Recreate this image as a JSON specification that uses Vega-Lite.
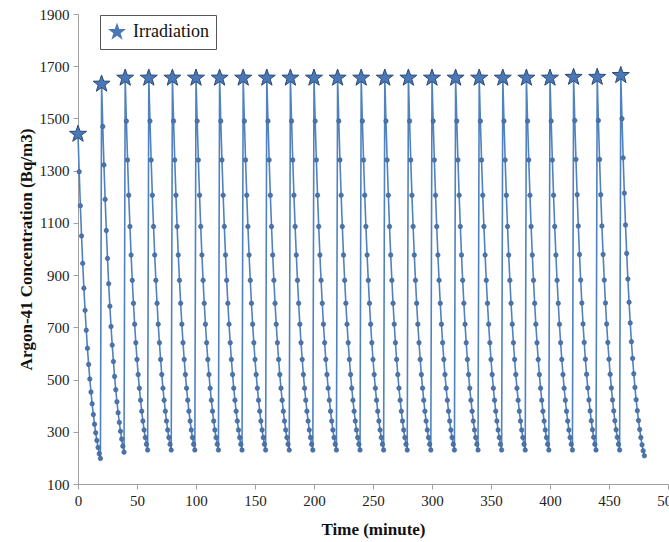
{
  "$schema": "https://vega.github.io/schema/vega-lite/v6.json",
  "width": 590,
  "height": 470,
  "autosize": {"type": "none"},
  "padding": {"left": 78, "top": 14, "right": 1, "bottom": 58},
  "background": "white",
  "config": {
    "view": {"stroke": null},
    "axis": {
      "grid": false,
      "domainColor": "#a0a0a0",
      "tickColor": "#a0a0a0",
      "tickSize": 5,
      "labelFont": "Liberation Serif",
      "labelFontSize": 15,
      "labelColor": "#222222",
      "titleFont": "Liberation Serif",
      "titleFontSize": 17,
      "titleFontWeight": "bold",
      "titleColor": "#111111"
    }
  },
  "data": {"values": [
    {"t":0,"v":1440,"k":"Irradiation"},{"t":1,"v":1296},{"t":2,"v":1166},{"t":3,"v":1050},{"t":4,"v":945},{"t":5,"v":850},{"t":6,"v":765},{"t":7,"v":689},{"t":8,"v":620},{"t":9,"v":558},{"t":10,"v":502},{"t":11,"v":452},{"t":12,"v":407},{"t":13,"v":366},{"t":14,"v":329},{"t":15,"v":296},{"t":16,"v":267},{"t":17,"v":240},{"t":18,"v":216},{"t":19,"v":198},
    {"t":20,"v":1632,"k":"Irradiation"},{"t":21,"v":1469},{"t":22,"v":1322},{"t":23,"v":1190},{"t":24,"v":1071},{"t":25,"v":964},{"t":26,"v":867},{"t":27,"v":781},{"t":28,"v":703},{"t":29,"v":632},{"t":30,"v":569},{"t":31,"v":512},{"t":32,"v":461},{"t":33,"v":415},{"t":34,"v":373},{"t":35,"v":336},{"t":36,"v":302},{"t":37,"v":272},{"t":38,"v":245},{"t":39,"v":222},
    {"t":40,"v":1655,"k":"Irradiation"},{"t":41,"v":1490},{"t":42,"v":1341},{"t":43,"v":1206},{"t":44,"v":1086},{"t":45,"v":977},{"t":46,"v":880},{"t":47,"v":792},{"t":48,"v":712},{"t":49,"v":641},{"t":50,"v":577},{"t":51,"v":519},{"t":52,"v":467},{"t":53,"v":421},{"t":54,"v":379},{"t":55,"v":341},{"t":56,"v":307},{"t":57,"v":278},{"t":58,"v":252},{"t":59,"v":230},
    {"t":60,"v":1655,"k":"Irradiation"},{"t":61,"v":1490},{"t":62,"v":1341},{"t":63,"v":1206},{"t":64,"v":1086},{"t":65,"v":977},{"t":66,"v":880},{"t":67,"v":792},{"t":68,"v":712},{"t":69,"v":641},{"t":70,"v":577},{"t":71,"v":519},{"t":72,"v":467},{"t":73,"v":421},{"t":74,"v":379},{"t":75,"v":341},{"t":76,"v":307},{"t":77,"v":278},{"t":78,"v":252},{"t":79,"v":230},
    {"t":80,"v":1655,"k":"Irradiation"},{"t":81,"v":1490},{"t":82,"v":1341},{"t":83,"v":1206},{"t":84,"v":1086},{"t":85,"v":977},{"t":86,"v":880},{"t":87,"v":792},{"t":88,"v":712},{"t":89,"v":641},{"t":90,"v":577},{"t":91,"v":519},{"t":92,"v":467},{"t":93,"v":421},{"t":94,"v":379},{"t":95,"v":341},{"t":96,"v":307},{"t":97,"v":278},{"t":98,"v":252},{"t":99,"v":230},
    {"t":100,"v":1655,"k":"Irradiation"},{"t":101,"v":1490},{"t":102,"v":1341},{"t":103,"v":1206},{"t":104,"v":1086},{"t":105,"v":977},{"t":106,"v":880},{"t":107,"v":792},{"t":108,"v":712},{"t":109,"v":641},{"t":110,"v":577},{"t":111,"v":519},{"t":112,"v":467},{"t":113,"v":421},{"t":114,"v":379},{"t":115,"v":341},{"t":116,"v":307},{"t":117,"v":278},{"t":118,"v":252},{"t":119,"v":230},
    {"t":120,"v":1655,"k":"Irradiation"},{"t":121,"v":1490},{"t":122,"v":1341},{"t":123,"v":1206},{"t":124,"v":1086},{"t":125,"v":977},{"t":126,"v":880},{"t":127,"v":792},{"t":128,"v":712},{"t":129,"v":641},{"t":130,"v":577},{"t":131,"v":519},{"t":132,"v":467},{"t":133,"v":421},{"t":134,"v":379},{"t":135,"v":341},{"t":136,"v":307},{"t":137,"v":278},{"t":138,"v":252},{"t":139,"v":230},
    {"t":140,"v":1655,"k":"Irradiation"},{"t":141,"v":1490},{"t":142,"v":1341},{"t":143,"v":1206},{"t":144,"v":1086},{"t":145,"v":977},{"t":146,"v":880},{"t":147,"v":792},{"t":148,"v":712},{"t":149,"v":641},{"t":150,"v":577},{"t":151,"v":519},{"t":152,"v":467},{"t":153,"v":421},{"t":154,"v":379},{"t":155,"v":341},{"t":156,"v":307},{"t":157,"v":278},{"t":158,"v":252},{"t":159,"v":230},
    {"t":160,"v":1655,"k":"Irradiation"},{"t":161,"v":1490},{"t":162,"v":1341},{"t":163,"v":1206},{"t":164,"v":1086},{"t":165,"v":977},{"t":166,"v":880},{"t":167,"v":792},{"t":168,"v":712},{"t":169,"v":641},{"t":170,"v":577},{"t":171,"v":519},{"t":172,"v":467},{"t":173,"v":421},{"t":174,"v":379},{"t":175,"v":341},{"t":176,"v":307},{"t":177,"v":278},{"t":178,"v":252},{"t":179,"v":230},
    {"t":180,"v":1655,"k":"Irradiation"},{"t":181,"v":1490},{"t":182,"v":1341},{"t":183,"v":1206},{"t":184,"v":1086},{"t":185,"v":977},{"t":186,"v":880},{"t":187,"v":792},{"t":188,"v":712},{"t":189,"v":641},{"t":190,"v":577},{"t":191,"v":519},{"t":192,"v":467},{"t":193,"v":421},{"t":194,"v":379},{"t":195,"v":341},{"t":196,"v":307},{"t":197,"v":278},{"t":198,"v":252},{"t":199,"v":230},
    {"t":200,"v":1655,"k":"Irradiation"},{"t":201,"v":1490},{"t":202,"v":1341},{"t":203,"v":1206},{"t":204,"v":1086},{"t":205,"v":977},{"t":206,"v":880},{"t":207,"v":792},{"t":208,"v":712},{"t":209,"v":641},{"t":210,"v":577},{"t":211,"v":519},{"t":212,"v":467},{"t":213,"v":421},{"t":214,"v":379},{"t":215,"v":341},{"t":216,"v":307},{"t":217,"v":278},{"t":218,"v":252},{"t":219,"v":230},
    {"t":220,"v":1655,"k":"Irradiation"},{"t":221,"v":1490},{"t":222,"v":1341},{"t":223,"v":1206},{"t":224,"v":1086},{"t":225,"v":977},{"t":226,"v":880},{"t":227,"v":792},{"t":228,"v":712},{"t":229,"v":641},{"t":230,"v":577},{"t":231,"v":519},{"t":232,"v":467},{"t":233,"v":421},{"t":234,"v":379},{"t":235,"v":341},{"t":236,"v":307},{"t":237,"v":278},{"t":238,"v":252},{"t":239,"v":230},
    {"t":240,"v":1655,"k":"Irradiation"},{"t":241,"v":1490},{"t":242,"v":1341},{"t":243,"v":1206},{"t":244,"v":1086},{"t":245,"v":977},{"t":246,"v":880},{"t":247,"v":792},{"t":248,"v":712},{"t":249,"v":641},{"t":250,"v":577},{"t":251,"v":519},{"t":252,"v":467},{"t":253,"v":421},{"t":254,"v":379},{"t":255,"v":341},{"t":256,"v":307},{"t":257,"v":278},{"t":258,"v":252},{"t":259,"v":230},
    {"t":260,"v":1655,"k":"Irradiation"},{"t":261,"v":1490},{"t":262,"v":1341},{"t":263,"v":1206},{"t":264,"v":1086},{"t":265,"v":977},{"t":266,"v":880},{"t":267,"v":792},{"t":268,"v":712},{"t":269,"v":641},{"t":270,"v":577},{"t":271,"v":519},{"t":272,"v":467},{"t":273,"v":421},{"t":274,"v":379},{"t":275,"v":341},{"t":276,"v":307},{"t":277,"v":278},{"t":278,"v":252},{"t":279,"v":230},
    {"t":280,"v":1655,"k":"Irradiation"},{"t":281,"v":1490},{"t":282,"v":1341},{"t":283,"v":1206},{"t":284,"v":1086},{"t":285,"v":977},{"t":286,"v":880},{"t":287,"v":792},{"t":288,"v":712},{"t":289,"v":641},{"t":290,"v":577},{"t":291,"v":519},{"t":292,"v":467},{"t":293,"v":421},{"t":294,"v":379},{"t":295,"v":341},{"t":296,"v":307},{"t":297,"v":278},{"t":298,"v":252},{"t":299,"v":230},
    {"t":300,"v":1655,"k":"Irradiation"},{"t":301,"v":1490},{"t":302,"v":1341},{"t":303,"v":1206},{"t":304,"v":1086},{"t":305,"v":977},{"t":306,"v":880},{"t":307,"v":792},{"t":308,"v":712},{"t":309,"v":641},{"t":310,"v":577},{"t":311,"v":519},{"t":312,"v":467},{"t":313,"v":421},{"t":314,"v":379},{"t":315,"v":341},{"t":316,"v":307},{"t":317,"v":278},{"t":318,"v":252},{"t":319,"v":230},
    {"t":320,"v":1655,"k":"Irradiation"},{"t":321,"v":1490},{"t":322,"v":1341},{"t":323,"v":1206},{"t":324,"v":1086},{"t":325,"v":977},{"t":326,"v":880},{"t":327,"v":792},{"t":328,"v":712},{"t":329,"v":641},{"t":330,"v":577},{"t":331,"v":519},{"t":332,"v":467},{"t":333,"v":421},{"t":334,"v":379},{"t":335,"v":341},{"t":336,"v":307},{"t":337,"v":278},{"t":338,"v":252},{"t":339,"v":230},
    {"t":340,"v":1655,"k":"Irradiation"},{"t":341,"v":1490},{"t":342,"v":1341},{"t":343,"v":1206},{"t":344,"v":1086},{"t":345,"v":977},{"t":346,"v":880},{"t":347,"v":792},{"t":348,"v":712},{"t":349,"v":641},{"t":350,"v":577},{"t":351,"v":519},{"t":352,"v":467},{"t":353,"v":421},{"t":354,"v":379},{"t":355,"v":341},{"t":356,"v":307},{"t":357,"v":278},{"t":358,"v":252},{"t":359,"v":230},
    {"t":360,"v":1655,"k":"Irradiation"},{"t":361,"v":1490},{"t":362,"v":1341},{"t":363,"v":1206},{"t":364,"v":1086},{"t":365,"v":977},{"t":366,"v":880},{"t":367,"v":792},{"t":368,"v":712},{"t":369,"v":641},{"t":370,"v":577},{"t":371,"v":519},{"t":372,"v":467},{"t":373,"v":421},{"t":374,"v":379},{"t":375,"v":341},{"t":376,"v":307},{"t":377,"v":278},{"t":378,"v":252},{"t":379,"v":230},
    {"t":380,"v":1655,"k":"Irradiation"},{"t":381,"v":1490},{"t":382,"v":1341},{"t":383,"v":1206},{"t":384,"v":1086},{"t":385,"v":977},{"t":386,"v":880},{"t":387,"v":792},{"t":388,"v":712},{"t":389,"v":641},{"t":390,"v":577},{"t":391,"v":519},{"t":392,"v":467},{"t":393,"v":421},{"t":394,"v":379},{"t":395,"v":341},{"t":396,"v":307},{"t":397,"v":278},{"t":398,"v":252},{"t":399,"v":230},
    {"t":400,"v":1655,"k":"Irradiation"},{"t":401,"v":1490},{"t":402,"v":1341},{"t":403,"v":1206},{"t":404,"v":1086},{"t":405,"v":977},{"t":406,"v":880},{"t":407,"v":792},{"t":408,"v":712},{"t":409,"v":641},{"t":410,"v":577},{"t":411,"v":519},{"t":412,"v":467},{"t":413,"v":421},{"t":414,"v":379},{"t":415,"v":341},{"t":416,"v":307},{"t":417,"v":278},{"t":418,"v":252},{"t":419,"v":230},
    {"t":420,"v":1658,"k":"Irradiation"},{"t":421,"v":1492},{"t":422,"v":1343},{"t":423,"v":1208},{"t":424,"v":1088},{"t":425,"v":979},{"t":426,"v":881},{"t":427,"v":793},{"t":428,"v":713},{"t":429,"v":642},{"t":430,"v":578},{"t":431,"v":520},{"t":432,"v":468},{"t":433,"v":422},{"t":434,"v":380},{"t":435,"v":342},{"t":436,"v":308},{"t":437,"v":279},{"t":438,"v":252},{"t":439,"v":230},
    {"t":440,"v":1658,"k":"Irradiation"},{"t":441,"v":1492},{"t":442,"v":1343},{"t":443,"v":1208},{"t":444,"v":1088},{"t":445,"v":979},{"t":446,"v":881},{"t":447,"v":793},{"t":448,"v":713},{"t":449,"v":642},{"t":450,"v":578},{"t":451,"v":520},{"t":452,"v":468},{"t":453,"v":422},{"t":454,"v":380},{"t":455,"v":342},{"t":456,"v":308},{"t":457,"v":279},{"t":458,"v":252},{"t":459,"v":230},
    {"t":460,"v":1665,"k":"Irradiation"},{"t":461,"v":1499},{"t":462,"v":1349},{"t":463,"v":1214},{"t":464,"v":1092},{"t":465,"v":983},{"t":466,"v":885},{"t":467,"v":796},{"t":468,"v":717},{"t":469,"v":645},{"t":470,"v":581},{"t":471,"v":522},{"t":472,"v":470},{"t":473,"v":423},{"t":474,"v":381},{"t":475,"v":343},{"t":476,"v":309},{"t":477,"v":278},{"t":478,"v":250},{"t":479,"v":227},{"t":480,"v":208}
  ]},
  "layer": [
    {
      "mark": {"type": "line", "color": "#5082c0", "strokeWidth": 1.6},
      "encoding": {
        "x": {
          "field": "t", "type": "quantitative",
          "scale": {"domain": [0, 500], "nice": false, "zero": false},
          "axis": {"values": [0,50,100,150,200,250,300,350,400,450,500], "format": "d", "title": "Time (minute)", "titlePadding": 13, "labelPadding": 4, "labelFlush": false}
        },
        "y": {
          "field": "v", "type": "quantitative",
          "scale": {"domain": [100, 1900], "nice": false, "zero": false},
          "axis": {"values": [100,300,500,700,900,1100,1300,1500,1700,1900], "format": "d", "title": "Argon-41 Concentration (Bq/m3)", "titlePadding": 4, "labelPadding": 4}
        }
      }
    },
    {
      "transform": [{"filter": "!datum.k"}],
      "mark": {"type": "point", "shape": "circle", "filled": true, "size": 20, "fill": "#4a74ab", "stroke": "#3a5f90", "strokeWidth": 0.6, "opacity": 1},
      "encoding": {
        "x": {"field": "t", "type": "quantitative"},
        "y": {"field": "v", "type": "quantitative"}
      }
    },
    {
      "transform": [{"filter": "datum.k"}],
      "mark": {"type": "point", "filled": true, "size": 320, "fill": "#4a78b6", "stroke": "#2b4a75", "strokeWidth": 1, "opacity": 1},
      "encoding": {
        "x": {"field": "t", "type": "quantitative"},
        "y": {"field": "v", "type": "quantitative"},
        "shape": {
          "field": "k",
          "type": "nominal",
          "scale": {"range": ["M0,-1L0.235,-0.324L0.951,-0.309L0.38,0.124L0.588,0.809L0,0.4L-0.588,0.809L-0.38,0.124L-0.951,-0.309L-0.235,-0.324Z"]},
          "legend": {
            "title": null,
            "orient": "none",
            "legendX": 22,
            "legendY": 1,
            "strokeColor": "#555555",
            "padding": 7,
            "labelFont": "Liberation Serif",
            "labelFontSize": 18,
            "labelColor": "#111111",
            "labelOffset": 6,
            "symbolSize": 360,
            "symbolFillColor": "#4a78b6",
            "symbolStrokeColor": "#2b4a75",
            "symbolStrokeWidth": 1,
            "symbolOpacity": 1
          }
        }
      }
    }
  ]
}
